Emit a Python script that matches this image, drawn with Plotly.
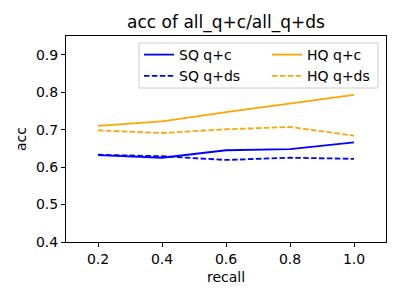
import plotly.graph_objects as go

recall = [0.2, 0.4, 0.6, 0.8, 1.0]
sq_qc = [0.632, 0.625, 0.645, 0.648, 0.666]
sq_qds = [0.633, 0.629, 0.619, 0.625, 0.622]
hq_qc = [0.710, 0.722, 0.747, 0.771, 0.793]
hq_qds = [0.698, 0.691, 0.701, 0.707, 0.684]

series = [
    ("SQ q+c", sq_qc, "blue", "solid", "legend"),
    ("SQ q+ds", sq_qds, "blue", "5.5px,2.4px", "legend"),
    ("HQ q+c", hq_qc, "orange", "solid", "legend2"),
    ("HQ q+ds", hq_qds, "orange", "5.5px,2.4px", "legend2"),
]

fig = go.Figure()
for name, vals, color, dash, leg in series:
    fig.add_trace(go.Scatter(x=recall, y=vals, mode="lines", name=name, legend=leg,
                             line=dict(color=color, width=1.8, dash=dash)))

font = "DejaVu Sans"
# page has an 8px body margin; figure is 392x292 placed at (8, 8)
OFF = 8
W, H = 392, 292
L, R, T, B = 66 - OFF, 14, 36 - OFF, 58
pw, ph = W - L - R, H - T - B

def px(x):  # page pixel -> plot paper fraction
    return (x - OFF - L) / pw

def py(y):
    return (H - B - (y - OFF)) / ph

legstyle = dict(bgcolor="rgba(0,0,0,0)", borderwidth=0, font=dict(size=14),
                tracegroupgap=0, itemwidth=30, xanchor="left", yanchor="top")
fig.update_layout(
    width=W, height=H,
    margin=dict(l=L, r=R, t=T, b=B),
    paper_bgcolor="white", plot_bgcolor="white",
    font=dict(family=font, size=14, color="black"),
    title=dict(text="acc of all_q+c/all_q+ds", x=(226 - OFF) / W, xanchor="center",
               y=1 - (22 - OFF) / H, yanchor="middle", font=dict(size=17)),
    showlegend=True,
    legend=dict(x=px(139), y=py(39), **legstyle),
    legend2=dict(x=px(267), y=py(39), **legstyle),
    shapes=[dict(type="rect", xref="paper", yref="paper", layer="above",
                 x0=px(139), x1=px(378), y0=py(88), y1=py(43),
                 fillcolor="rgba(255,255,255,0.8)", line=dict(color="#cccccc", width=1))],
)
axis_common = dict(showgrid=False, zeroline=False, showline=True, linecolor="black",
                   linewidth=1, mirror=True, ticks="outside", ticklen=4,
                   tickcolor="black", tickfont=dict(size=14), automargin=False)
fig.update_xaxes(range=[0.1, 1.1], tickvals=recall, ticktext=["0.2", "0.4", "0.6", "0.8", "1.0"],
                 title=dict(text="recall", font=dict(size=14), standoff=6), **axis_common)
fig.update_yaxes(range=[0.4, 0.95], tickvals=[0.4, 0.5, 0.6, 0.7, 0.8, 0.9],
                 ticktext=["0.4", "0.5", "0.6", "0.7", "0.8", "0.9"],
                 title=dict(text="acc", font=dict(size=14), standoff=6), **axis_common)

fig.write_html("out.html")
